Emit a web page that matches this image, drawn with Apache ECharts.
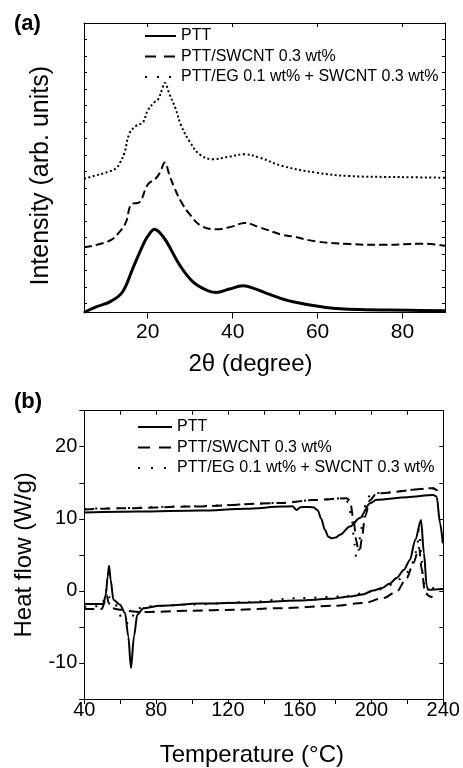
<!DOCTYPE html>
<html>
<head>
<meta charset="utf-8">
<script src="https://cdn.jsdelivr.net/npm/echarts@6/dist/echarts.min.js"></script>
<style>
  html, body { margin: 0; padding: 0; background: #fff; }
  #chart { width: 463px; height: 768px; }
</style>
</head>
<body>
<div id="chart"></div>
<script>
// ---- (a) XRD patterns ----
var pttTheta = [5, 8, 11.4, 14.1, 16.5, 19.3, 20.5, 21.6, 22.8, 24.4, 27.5, 30.6, 33.8, 36.1, 39.2, 42.4, 45.5, 48.7, 54.2, 62, 69.8, 81.6, 90];
var pttInt = [-0.55, -0.2, 0.14, 0.71, 2.13, 3.76, 4.25, 4.5, 4.3, 3.76, 2.34, 1.32, 0.81, 0.67, 0.87, 1.07, 0.87, 0.55, 0.1, -0.24, -0.37, -0.41, -0.45];

var swTheta = [5, 11, 13.8, 15, 16.1, 18.1, 20, 22, 23, 24, 25.1, 26.3, 28, 29.9, 32.6, 36.1, 40, 42.8, 46.3, 51.8, 54.2, 59.6, 67.5, 75.3, 84.7, 90];
var swInt = [3.4, 3.8, 4.47, 5.0, 6.0, 6.15, 7.2, 7.6, 8.0, 8.55, 7.8, 7.0, 6.1, 5.4, 4.7, 4.5, 4.67, 4.88, 4.62, 4.15, 4.06, 3.76, 3.6, 3.55, 3.62, 3.5];

var egTheta = [5, 6.3, 11, 12.6, 13.4, 14.5, 15.7, 17.3, 18.9, 20, 21.6, 22.5, 23.4, 24, 25.1, 26.5, 27.9, 29.9, 32.2, 35.3, 39.2, 42.8, 46.3, 51.8, 59.6, 67.5, 79.3, 90];
var egInt = [7.55, 7.65, 8.0, 8.2, 8.5, 9.1, 10.3, 10.77, 10.98, 11.7, 12.2, 12.4, 13.0, 13.37, 12.7, 11.85, 10.77, 9.8, 9.04, 8.74, 8.9, 9.04, 8.84, 8.33, 7.93, 7.72, 7.66, 7.62];

var xrdTicks = [20, 40, 60, 80];
var intensityTicks = [0, 1, 2, 3, 4, 5, 6, 7, 8, 9, 10, 11, 12, 13, 14, 15, 16];

// ---- (b) DSC curves (upper: cooling, lower: heating) ----
var pttCoolT = [40, 70, 104.5, 130, 150.9, 156, 158.3, 160.5, 163, 167.6, 170, 172, 174, 176, 178, 180, 182.4, 188, 193.5, 199.2, 202.9, 220, 234.4, 236.3, 238.2, 239.7];
var pttCoolH = [10.87, 11.0, 11.14, 11.4, 11.7, 11.75, 11.24, 11.6, 11.65, 11.6, 11.2, 10.0, 8.5, 7.5, 7.3, 7.4, 7.78, 8.93, 10.1, 12.17, 12.63, 13.0, 13.3, 13.1, 9.4, 6.6];

var swCoolT = [40, 60, 100, 150, 167.6, 186.2, 188, 190, 191.5, 192.6, 193.5, 194.5, 196.4, 199.2, 202.9, 234.4, 236.3, 237];
var swCoolH = [11.3, 11.45, 11.7, 12.2, 12.6, 12.86, 12.5, 9.9, 7.0, 5.7, 5.6, 7.1, 10.3, 12.6, 13.55, 14.25, 14.0, 13.5];

var egCoolT = [40, 60, 100, 150, 167.6, 185, 187, 189, 190.5, 191.5, 192.5, 194, 195.5, 197.5, 200.1, 234.4, 236.3, 237];
var egCoolH = [11.4, 11.5, 11.75, 12.2, 12.6, 12.85, 12.3, 10.0, 6.5, 4.6, 5.2, 8.0, 11.0, 12.8, 13.55, 14.2, 13.9, 13.4];

var pttHeatT = [40, 50.6, 52, 53, 53.8, 54.7, 56.2, 59.9, 62.7, 64.5, 66, 67.7, 69.5, 72.9, 82.2, 104.5, 126.7, 160.2, 176.9, 188, 195, 201, 206, 210, 214, 218, 221.4, 224.4, 227.6, 229.2, 230.8, 231.6, 240];
var pttHeatH = [-1.83, -1.83, -0.5, 2.0, 3.48, 1.54, -1.23, -1.93, -3.08, -6.3, -10.7, -6.3, -3.3, -2.4, -2.07, -1.75, -1.65, -1.33, -1.1, -0.77, -0.5, 0.05, 0.4, 1.0, 1.8, 2.9, 4.3, 7.1, 9.85, 5.24, 0.61, 0.15, 0.25];

var swHeatT = [40, 49.7, 51.5, 52.5, 53.5, 55, 60, 67.3, 71.1, 100, 123, 150, 178.7, 195.4, 206.6, 214, 219.6, 223.3, 226.5, 228, 229.8, 232.6, 234];
var swHeatH = [-2.52, -2.52, -1.5, -0.6, -1.6, -2.4, -2.6, -2.85, -2.95, -2.75, -2.62, -2.4, -2.07, -1.69, -1.0, -0.1, 1.77, 3.85, 6.0, 3.0, -0.3, -0.77, -0.9];

var egHeatT = [40, 50, 51.5, 52.5, 54, 57, 59, 61, 62.7, 65.5, 68.3, 70, 75, 100, 130, 160, 184.3, 201, 212, 218, 221.4, 223.5, 225.2, 226.6, 227.8, 228.9, 231, 234.4, 240];
var egHeatH = [-2.2, -2.1, -0.6, 0.3, -0.9, -1.6, -2.85, -3.9, -4.46, -4.46, -2.85, -2.4, -2.15, -1.9, -1.55, -1.0, -0.77, -0.08, 0.9, 2.0, 2.9, 4.2, 5.7, 8.47, 4.5, 1.08, 0.5, 0.39, -0.08];

var legendNames = ["PTT", "PTT/SWCNT 0.3 wt%", "PTT/EG 0.1 wt% + SWCNT 0.3 wt%"];

function pairs(xs, ys) {
  return xs.map(function (x, i) { return [x, ys[i]]; });
}

var font = "Liberation Sans, Arial, sans-serif";
var black = "#000";

function line(name, xi, yi, data, width, type, smooth, monotone) {
  return {
    name: name,
    type: "line",
    xAxisIndex: xi,
    yAxisIndex: yi,
    data: data,
    symbol: "none",
    smooth: smooth,
    smoothMonotone: monotone,
    lineStyle: { color: black, width: width, type: type },
    itemStyle: { color: black },
    silent: true,
    animation: false,
  };
}

function legendItem(name, type) {
  return {
    name: name,
    lineStyle: { width: 2, type: type, color: black },
    itemStyle: { opacity: 0, borderWidth: 0 },
  };
}

var chartDom = document.getElementById("chart");
var myChart = echarts.init(chartDom);

var frame = { show: true, onZero: false, lineStyle: { color: black, width: 1 } };

var option = {
  backgroundColor: "#fff",
  animation: false,
  textStyle: { fontFamily: font, color: black },
  title: [
    { text: "(a)", left: 9, top: 8, textStyle: { fontFamily: font, fontSize: 22, fontWeight: "bold", color: black } },
    { text: "(b)", left: 9, top: 386, textStyle: { fontFamily: font, fontSize: 22, fontWeight: "bold", color: black } },
  ],
  legend: [
    {
      left: 139, top: 23, orient: "vertical",
      itemWidth: 31, itemHeight: 14, itemGap: 4.5,
      textStyle: { fontFamily: font, fontSize: 16, color: black },
      data: [
        legendItem(legendNames[0], "solid"),
        legendItem(legendNames[1], [11, 8]),
        legendItem(legendNames[2], [2, 10]),
      ],
    },
    {
      left: 132, top: 414, orient: "vertical",
      itemWidth: 34, itemHeight: 14, itemGap: 4.5,
      textStyle: { fontFamily: font, fontSize: 16, color: black },
      data: [
        legendItem(legendNames[0], "solid"),
        legendItem(legendNames[1], [12, 9]),
        legendItem(legendNames[2], [2, 11]),
      ],
    },
  ],
  grid: [
    { left: 84, top: 23, width: 361, height: 289.5 },
    { left: 84.3, top: 410.7, width: 359, height: 288.6 },
  ],
  xAxis: [
    {
      gridIndex: 0, type: "value", min: 5, max: 90, position: "bottom",
      axisLine: frame,
      axisTick: { show: true, inside: false, length: 6, customValues: xrdTicks, lineStyle: { color: black } },
      axisLabel: { show: true, customValues: xrdTicks, margin: 9, fontSize: 21, fontFamily: font, color: black },
      splitLine: { show: false },
      name: "2\u03b8 (degree)", nameLocation: "middle", nameGap: 40,
      nameTextStyle: { fontSize: 24, fontFamily: font, color: black, padding: [0, 28, 0, 0] },
    },
    {
      gridIndex: 0, type: "value", min: 5, max: 90, position: "top",
      axisLine: frame,
      axisTick: { show: true, inside: true, length: 4, customValues: xrdTicks, lineStyle: { color: black } },
      axisLabel: { show: false },
      splitLine: { show: false },
    },
    {
      gridIndex: 1, type: "value", min: 40, max: 240, interval: 20, position: "bottom",
      axisLine: frame,
      axisTick: { show: true, inside: false, length: 5, lineStyle: { color: black } },
      axisLabel: {
        margin: 1, fontSize: 20, fontFamily: font, color: black,
        formatter: function (v) { return v % 40 === 0 ? String(v) : ""; },
      },
      splitLine: { show: false },
      name: "Temperature (\u00b0C)", nameLocation: "middle", nameGap: 44,
      nameTextStyle: { fontSize: 24, fontFamily: font, color: black, padding: [0, 24, 0, 0] },
    },
    {
      gridIndex: 1, type: "value", min: 40, max: 240, interval: 20, position: "top",
      axisLine: frame,
      axisTick: { show: true, inside: true, length: 4, lineStyle: { color: black } },
      axisLabel: { show: false },
      splitLine: { show: false },
    },
  ],
  yAxis: [
    {
      gridIndex: 0, type: "value", min: -0.55, max: 17.0, position: "left",
      axisLine: frame,
      axisTick: { show: true, inside: true, length: 3, customValues: intensityTicks, lineStyle: { color: black } },
      axisLabel: { show: false },
      splitLine: { show: false },
      name: "Intensity (arb. units)", nameLocation: "middle", nameGap: 30,
      nameTextStyle: { fontSize: 25, fontFamily: font, color: black, padding: [0, 16, 0, 0] },
    },
    {
      gridIndex: 0, type: "value", min: -0.55, max: 17.0, position: "right",
      axisLine: frame,
      axisTick: { show: true, inside: true, length: 3, customValues: intensityTicks, lineStyle: { color: black } },
      axisLabel: { show: false },
      splitLine: { show: false },
    },
    {
      gridIndex: 1, type: "value", min: -15, max: 25, interval: 5, position: "left",
      axisLine: frame,
      axisTick: { show: true, inside: false, length: 5, lineStyle: { color: black } },
      axisLabel: {
        margin: 7, fontSize: 20, fontFamily: font, color: black,
        formatter: function (v) { return v % 10 === 0 ? String(v) : ""; },
      },
      splitLine: { show: false },
      name: "Heat flow (W/g)", nameLocation: "middle", nameGap: 48,
      nameTextStyle: { fontSize: 24, fontFamily: font, color: black },
    },
    {
      gridIndex: 1, type: "value", min: -15, max: 25, interval: 5, position: "right",
      axisLine: frame,
      axisTick: { show: true, inside: true, length: 4, lineStyle: { color: black } },
      axisLabel: { show: false },
      splitLine: { show: false },
    },
  ],
  series: [
    line(legendNames[0], 0, 0, pairs(pttTheta, pttInt), 3, "solid", 0.4, null),
    line(legendNames[1], 0, 0, pairs(swTheta, swInt), 2, [8, 4], 0.4, null),
    line(legendNames[2], 0, 0, pairs(egTheta, egInt), 2, [2, 2.5], 0.4, null),
    line(legendNames[0], 2, 2, pairs(pttCoolT, pttCoolH), 2, "solid", 0.3, "x"),
    line(legendNames[1], 2, 2, pairs(swCoolT, swCoolH), 2, [10, 6], 0.3, "x"),
    line(legendNames[2], 2, 2, pairs(egCoolT, egCoolH), 2, [2, 9], 0.3, "x"),
    line(legendNames[0], 2, 2, pairs(pttHeatT, pttHeatH), 2, "solid", 0.3, "x"),
    line(legendNames[1], 2, 2, pairs(swHeatT, swHeatH), 2, [10, 6], 0.3, "x"),
    line(legendNames[2], 2, 2, pairs(egHeatT, egHeatH), 2, [2, 9], 0.3, "x"),
  ],
};

if (option && typeof option === "object") {
  myChart.setOption(option);
}

window.addEventListener("resize", myChart.resize);
</script>
</body>
</html>
